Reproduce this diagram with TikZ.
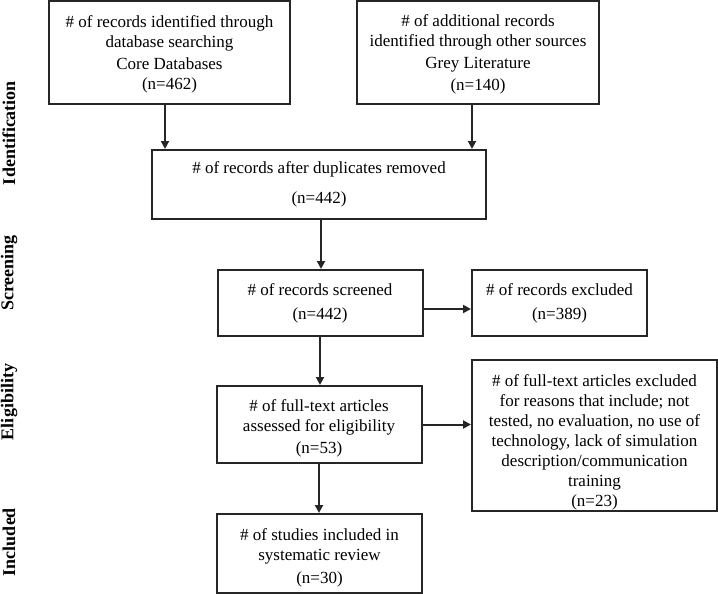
\documentclass[tikz,border=0pt]{standalone}
\usepackage{fontspec}
\setmainfont{Liberation Serif}
\usetikzlibrary{arrows.meta}
\begin{document}
\begin{tikzpicture}[x=1pt,y=-1pt,
  box/.style={draw=black!85, line width=2pt, align=center, inner sep=0pt,
    font=\fontsize{17}{20}\selectfont},
  arr/.style={draw=black!85, line width=2pt, -{Triangle[length=8pt,width=8pt]}},
  side/.style={rotate=90, font=\fontsize{18}{20}\selectfont\bfseries}]
\useasboundingbox (0,0) rectangle (718,594);
\node[box, minimum width=241pt, minimum height=103pt] (b1) at (169.5,52.5)
  {\rule{0pt}{16pt}\# of records identified through\\ database searching\\[2pt] Core Databases\\ (n=462)};
\node[box, minimum width=242pt, minimum height=103pt] (b2) at (478,52.5)
  {\rule{0pt}{16pt}\# of additional records\\ identified through other sources\\[2pt] Grey Literature\\[2pt] (n=140)};
\node[box, minimum width=334pt, minimum height=69pt] (b3) at (319,184.5)
  {\# of records after duplicates removed\\[10pt] (n=442)};
\node[box, minimum width=205pt, minimum height=66pt] (b4) at (320,303)
  {\# of records screened\\[4pt] (n=442)};
\node[box, minimum width=175pt, minimum height=66pt] (b5) at (559.5,303)
  {\# of records excluded\\[4pt] (n=389)};
\node[box, minimum width=205pt, minimum height=77pt] (b6) at (319,424.5)
  {\rule{0pt}{20pt}\# of full-text articles\\ assessed for eligibility\\[2pt] (n=53)};
\node[box, minimum width=245pt, minimum height=151pt] (b7) at (594.5,435.5)
  {\rule{0pt}{25pt}\# of full-text articles excluded\\ for reasons that include; not\\ tested, no evaluation, no use of\\ technology, lack of simulation\\ description/communication\\ training\\ (n=23)};
\node[box, minimum width=205pt, minimum height=79pt] (b8) at (319.5,553.5)
  {\rule{0pt}{20pt}\# of studies included in\\ systematic review\\[3pt] (n=30)};
\node[side] (s1) at (9,133) {Identification};
\node[side] (s2) at (9,273) {Screening};
\node[side] (s3) at (9,402) {Eligibility};
\node[side] (s4) at (9,542) {Included};
\draw[arr] ([xshift=-4.5pt]b1.south) -- ([xshift=-4.5pt]b1.south |- b3.north);
\draw[arr] ([xshift=-6pt]b2.south) -- ([xshift=-6pt]b2.south |- b3.north);
\draw[arr] ([xshift=2pt]b3.south) -- ([xshift=2pt]b3.south |- b4.north);
\draw[arr] (b4.south) -- (b4.south |- b6.north);
\draw[arr] (b6.south) -- (b6.south |- b8.north);
\draw[arr] ([yshift=-6pt]b4.east) -- ([yshift=-6pt]b4.east -| b5.west);
\draw[arr] (b6.east) -- (b6.east -| b7.west);
\end{tikzpicture}
\end{document}
